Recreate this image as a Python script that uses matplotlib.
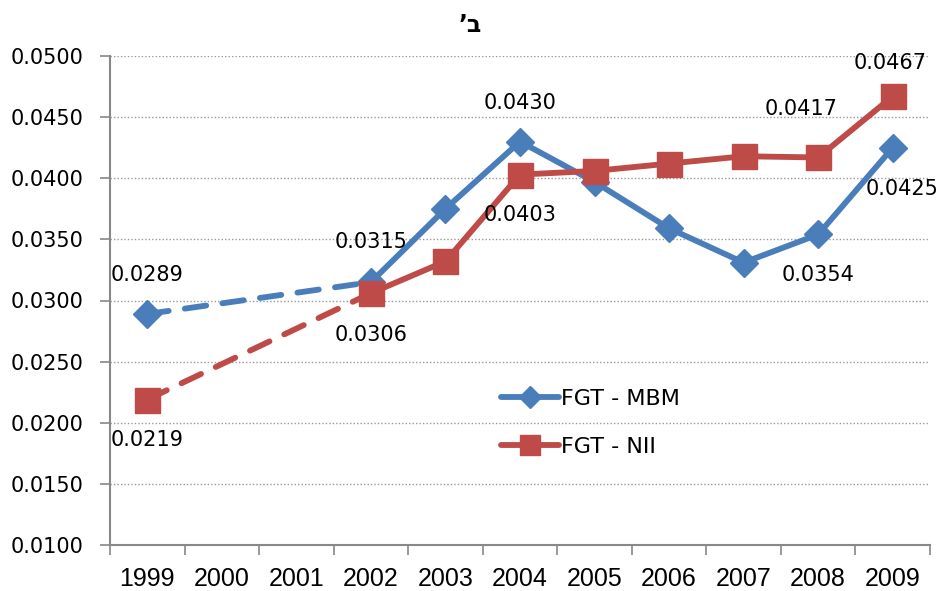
import numpy as np
import matplotlib
matplotlib.use("Agg")
import matplotlib.pyplot as plt
from matplotlib.lines import Line2D

years = ["1999", "2000", "2001", "2002", "2003", "2004", "2005", "2006", "2007", "2008", "2009"]
mbm = [0.0289, np.nan, np.nan, 0.0315, 0.0375, 0.0430, 0.0397, 0.0359, 0.0331, 0.0354, 0.0425]
nii = [0.0219, np.nan, np.nan, 0.0306, 0.0332, 0.0403, 0.0406, 0.0412, 0.0418, 0.0417, 0.0467]
mbm_labeled = ["1999", "2002", "2004", "2008", "2009"]
nii_labeled = ["1999", "2002", "2004", "2008", "2009"]
yticks = [0.0100, 0.0150, 0.0200, 0.0250, 0.0300, 0.0350, 0.0400, 0.0450, 0.0500]
title = "\u2019\u05d1"  # ב' (drawn in visual order)

blue = "#4A7EBB"
red = "#BE4B48"

fig = plt.figure(figsize=(9.41, 5.91), dpi=100)
ax = fig.add_axes([110/941, 1-545/591, (930-110)/941, (545-56)/591])

x = np.arange(len(years))
lw = 4.2

def draw(vals, color, marker, ms):
    v = np.array(vals, dtype=float)
    valid = ~np.isnan(v)
    idx = x[valid]
    vv = v[valid]
    # dashed across the gap, solid afterwards
    first_solid = 1
    ax.plot(idx[:first_solid+1], vv[:first_solid+1], color=color, lw=lw,
            dashes=(3.7, 2.8), dash_capstyle="round", zorder=3)
    ax.plot(idx[first_solid:], vv[first_solid:], color=color, lw=lw, solid_joinstyle="round",
            solid_capstyle="round", zorder=3)
    ax.plot(idx, vv, ls="none", marker=marker, ms=ms, color=color, mec=color, zorder=4)

draw(mbm, blue, "D", 14)
draw(nii, red, "s", 18)

fs = 15
lab_font = dict(fontsize=fs, family="DejaVu Sans", color="black", ha="center", va="center")

def label(series, labeled, offsets):
    for yr, (dx, dy) in zip(labeled, offsets):
        i = years.index(yr)
        val = series[i]
        ax.annotate(f"{val:.4f}", (i, val), xytext=(dx, dy), textcoords="offset points",
                    zorder=5, **lab_font)

# MBM labels
label(mbm, mbm_labeled, [(0, 28), (0, 29), (0, 28), (0, -29), (7, -30)])
# NII labels
label(nii, nii_labeled, [(0, -29), (0, -30), (0, -29), (-12, 35), (-2, 24)])

ax.set_xlim(-0.5, len(years) - 0.5)
ax.set_ylim(0.0100, 0.0500)
ax.set_yticks(yticks)
ax.set_yticklabels([f"{t:.4f}" for t in yticks], fontsize=fs, family="DejaVu Sans")
ax.set_xticks(x)
ax.set_xticklabels(years, fontsize=18, family=["Liberation Sans Narrow", "Liberation Sans"])
ax.set_xticks(np.arange(-0.5, len(years)), minor=True)
ax.tick_params(axis="x", which="major", length=0, pad=16)
ax.tick_params(axis="x", which="minor", length=7, color="#888888", width=1.2, direction="out")
ax.tick_params(axis="y", length=7, color="#888888", width=1.2, direction="out", pad=12)

for t in yticks[1:]:
    ax.axhline(t, color="#999999", lw=1.0, ls=(0, (1, 1.5)), zorder=1)

for s in ["top", "right"]:
    ax.spines[s].set_visible(False)
for s in ["left", "bottom"]:
    ax.spines[s].set_color("#888888")
    ax.spines[s].set_linewidth(1.5)

handles = [
    Line2D([], [], color=blue, lw=lw, marker="D", ms=11, solid_capstyle="round"),
    Line2D([], [], color=red, lw=lw, marker="s", ms=14, solid_capstyle="round"),
]
fig.legend(handles, ["FGT - MBM", "FGT - NII"], loc="upper left",
           bbox_to_anchor=(481/941, 1-369/591), frameon=False,
           handlelength=2.6, handletextpad=0.1, labelspacing=1.25,
           prop=dict(family="DejaVu Sans", size=16))

fig.text(470/941, 1-25/591, title, fontsize=17, fontweight="bold", ha="center", va="center",
         family="DejaVu Sans")

fig.savefig("out.png", dpi=100)
